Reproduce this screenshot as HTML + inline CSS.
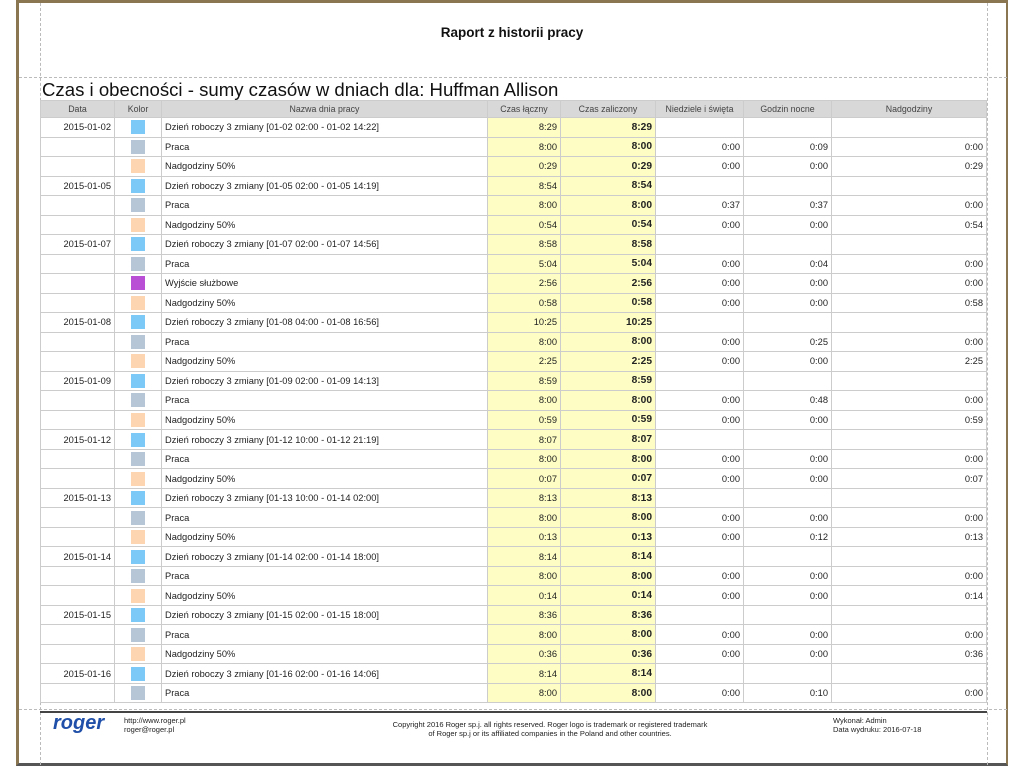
<!DOCTYPE html>
<html><head><meta charset="utf-8">
<style>
*{margin:0;padding:0;box-sizing:border-box}
body{width:1024px;height:768px;background:#fff;position:relative;overflow:hidden;font-family:"Liberation Sans","DejaVu Sans",sans-serif;color:#222}
.frame{position:absolute;left:16px;top:0;width:992px;height:766px;border:3px solid #8a7650;border-bottom-color:#555;border-right-width:2px}
.dv{position:absolute;border-left:1px dashed #bbb}
.dh{position:absolute;border-top:1px dashed #bbb}
.title{position:absolute;left:0;width:1024px;top:25px;text-align:center;font-weight:bold;font-size:13.5px;color:#111}
.head{position:absolute;left:42px;top:79px;font-size:18.6px;color:#111;white-space:nowrap}
table{position:absolute;left:40px;top:100px;border-collapse:collapse;table-layout:fixed;font-size:9.3px}
td,th{border:1px solid #ccc;height:19.53px;padding:0 3px;white-space:nowrap;overflow:hidden}
th{background:#d8d8d8;font-weight:normal;height:17px;color:#444;font-size:8.8px}
td.r{text-align:right}
td.y{background:#fdfdc4;text-align:right}
td.b{font-weight:bold;font-size:10.2px}
td.c{text-align:center}
.sq{display:inline-block;width:14px;height:14px;vertical-align:middle}
.bl{background:#7cc8f6}.gr{background:#b7c6d6}.pe{background:#fdd5b0}.pu{background:#b84fd4}
.foot{position:absolute;font-size:7.5px;color:#222;line-height:9px}
</style></head><body>
<div class="frame"></div>
<div class="dv" style="left:40px;top:3px;height:762px"></div>
<div class="dv" style="left:987px;top:3px;height:762px"></div>
<div class="dh" style="left:19px;top:77px;width:988px"></div>
<div class="dh" style="left:19px;top:709px;width:988px"></div>
<div style="position:absolute;left:40px;top:711px;width:947px;border-top:2px solid #444"></div>
<div class="title">Raport z historii pracy</div>
<div class="head">Czas i obecności - sumy czasów w dniach dla: Huffman Allison</div>
<table>
<colgroup><col style="width:74px"><col style="width:47px"><col style="width:326px"><col style="width:73px"><col style="width:95px"><col style="width:88px"><col style="width:88px"><col style="width:155px"></colgroup>
<tr><th>Data</th><th>Kolor</th><th>Nazwa dnia pracy</th><th>Czas łączny</th><th>Czas zaliczony</th><th>Niedziele i święta</th><th>Godzin nocne</th><th>Nadgodziny</th></tr>
<tr><td class="r">2015-01-02</td><td class="c"><span class="sq bl"></span></td><td>Dzień roboczy 3 zmiany [01-02 02:00 - 01-02 14:22]</td><td class="y">8:29</td><td class="y b">8:29</td><td></td><td></td><td></td></tr>
<tr><td></td><td class="c"><span class="sq gr"></span></td><td>Praca</td><td class="y">8:00</td><td class="y b">8:00</td><td class="r">0:00</td><td class="r">0:09</td><td class="r">0:00</td></tr>
<tr><td></td><td class="c"><span class="sq pe"></span></td><td>Nadgodziny 50%</td><td class="y">0:29</td><td class="y b">0:29</td><td class="r">0:00</td><td class="r">0:00</td><td class="r">0:29</td></tr>
<tr><td class="r">2015-01-05</td><td class="c"><span class="sq bl"></span></td><td>Dzień roboczy 3 zmiany [01-05 02:00 - 01-05 14:19]</td><td class="y">8:54</td><td class="y b">8:54</td><td></td><td></td><td></td></tr>
<tr><td></td><td class="c"><span class="sq gr"></span></td><td>Praca</td><td class="y">8:00</td><td class="y b">8:00</td><td class="r">0:37</td><td class="r">0:37</td><td class="r">0:00</td></tr>
<tr><td></td><td class="c"><span class="sq pe"></span></td><td>Nadgodziny 50%</td><td class="y">0:54</td><td class="y b">0:54</td><td class="r">0:00</td><td class="r">0:00</td><td class="r">0:54</td></tr>
<tr><td class="r">2015-01-07</td><td class="c"><span class="sq bl"></span></td><td>Dzień roboczy 3 zmiany [01-07 02:00 - 01-07 14:56]</td><td class="y">8:58</td><td class="y b">8:58</td><td></td><td></td><td></td></tr>
<tr><td></td><td class="c"><span class="sq gr"></span></td><td>Praca</td><td class="y">5:04</td><td class="y b">5:04</td><td class="r">0:00</td><td class="r">0:04</td><td class="r">0:00</td></tr>
<tr><td></td><td class="c"><span class="sq pu"></span></td><td>Wyjście służbowe</td><td class="y">2:56</td><td class="y b">2:56</td><td class="r">0:00</td><td class="r">0:00</td><td class="r">0:00</td></tr>
<tr><td></td><td class="c"><span class="sq pe"></span></td><td>Nadgodziny 50%</td><td class="y">0:58</td><td class="y b">0:58</td><td class="r">0:00</td><td class="r">0:00</td><td class="r">0:58</td></tr>
<tr><td class="r">2015-01-08</td><td class="c"><span class="sq bl"></span></td><td>Dzień roboczy 3 zmiany [01-08 04:00 - 01-08 16:56]</td><td class="y">10:25</td><td class="y b">10:25</td><td></td><td></td><td></td></tr>
<tr><td></td><td class="c"><span class="sq gr"></span></td><td>Praca</td><td class="y">8:00</td><td class="y b">8:00</td><td class="r">0:00</td><td class="r">0:25</td><td class="r">0:00</td></tr>
<tr><td></td><td class="c"><span class="sq pe"></span></td><td>Nadgodziny 50%</td><td class="y">2:25</td><td class="y b">2:25</td><td class="r">0:00</td><td class="r">0:00</td><td class="r">2:25</td></tr>
<tr><td class="r">2015-01-09</td><td class="c"><span class="sq bl"></span></td><td>Dzień roboczy 3 zmiany [01-09 02:00 - 01-09 14:13]</td><td class="y">8:59</td><td class="y b">8:59</td><td></td><td></td><td></td></tr>
<tr><td></td><td class="c"><span class="sq gr"></span></td><td>Praca</td><td class="y">8:00</td><td class="y b">8:00</td><td class="r">0:00</td><td class="r">0:48</td><td class="r">0:00</td></tr>
<tr><td></td><td class="c"><span class="sq pe"></span></td><td>Nadgodziny 50%</td><td class="y">0:59</td><td class="y b">0:59</td><td class="r">0:00</td><td class="r">0:00</td><td class="r">0:59</td></tr>
<tr><td class="r">2015-01-12</td><td class="c"><span class="sq bl"></span></td><td>Dzień roboczy 3 zmiany [01-12 10:00 - 01-12 21:19]</td><td class="y">8:07</td><td class="y b">8:07</td><td></td><td></td><td></td></tr>
<tr><td></td><td class="c"><span class="sq gr"></span></td><td>Praca</td><td class="y">8:00</td><td class="y b">8:00</td><td class="r">0:00</td><td class="r">0:00</td><td class="r">0:00</td></tr>
<tr><td></td><td class="c"><span class="sq pe"></span></td><td>Nadgodziny 50%</td><td class="y">0:07</td><td class="y b">0:07</td><td class="r">0:00</td><td class="r">0:00</td><td class="r">0:07</td></tr>
<tr><td class="r">2015-01-13</td><td class="c"><span class="sq bl"></span></td><td>Dzień roboczy 3 zmiany [01-13 10:00 - 01-14 02:00]</td><td class="y">8:13</td><td class="y b">8:13</td><td></td><td></td><td></td></tr>
<tr><td></td><td class="c"><span class="sq gr"></span></td><td>Praca</td><td class="y">8:00</td><td class="y b">8:00</td><td class="r">0:00</td><td class="r">0:00</td><td class="r">0:00</td></tr>
<tr><td></td><td class="c"><span class="sq pe"></span></td><td>Nadgodziny 50%</td><td class="y">0:13</td><td class="y b">0:13</td><td class="r">0:00</td><td class="r">0:12</td><td class="r">0:13</td></tr>
<tr><td class="r">2015-01-14</td><td class="c"><span class="sq bl"></span></td><td>Dzień roboczy 3 zmiany [01-14 02:00 - 01-14 18:00]</td><td class="y">8:14</td><td class="y b">8:14</td><td></td><td></td><td></td></tr>
<tr><td></td><td class="c"><span class="sq gr"></span></td><td>Praca</td><td class="y">8:00</td><td class="y b">8:00</td><td class="r">0:00</td><td class="r">0:00</td><td class="r">0:00</td></tr>
<tr><td></td><td class="c"><span class="sq pe"></span></td><td>Nadgodziny 50%</td><td class="y">0:14</td><td class="y b">0:14</td><td class="r">0:00</td><td class="r">0:00</td><td class="r">0:14</td></tr>
<tr><td class="r">2015-01-15</td><td class="c"><span class="sq bl"></span></td><td>Dzień roboczy 3 zmiany [01-15 02:00 - 01-15 18:00]</td><td class="y">8:36</td><td class="y b">8:36</td><td></td><td></td><td></td></tr>
<tr><td></td><td class="c"><span class="sq gr"></span></td><td>Praca</td><td class="y">8:00</td><td class="y b">8:00</td><td class="r">0:00</td><td class="r">0:00</td><td class="r">0:00</td></tr>
<tr><td></td><td class="c"><span class="sq pe"></span></td><td>Nadgodziny 50%</td><td class="y">0:36</td><td class="y b">0:36</td><td class="r">0:00</td><td class="r">0:00</td><td class="r">0:36</td></tr>
<tr><td class="r">2015-01-16</td><td class="c"><span class="sq bl"></span></td><td>Dzień roboczy 3 zmiany [01-16 02:00 - 01-16 14:06]</td><td class="y">8:14</td><td class="y b">8:14</td><td></td><td></td><td></td></tr>
<tr><td></td><td class="c"><span class="sq gr"></span></td><td>Praca</td><td class="y">8:00</td><td class="y b">8:00</td><td class="r">0:00</td><td class="r">0:10</td><td class="r">0:00</td></tr>
</table>
<div style="position:absolute;left:53px;top:712px;font-size:20px;font-weight:bold;font-style:italic;color:#1f4fa8">roger</div>
<div class="foot" style="left:124px;top:716px">http://www.roger.pl<br>roger@roger.pl</div>
<div class="foot" style="left:340px;width:420px;top:720px;text-align:center">Copyright 2016 Roger sp.j. all rights reserved. Roger logo is trademark or registered trademark<br>of Roger sp.j or its affiliated companies in the Poland and other countries.</div>
<div class="foot" style="left:833px;top:716px">Wykonał: Admin<br>Data wydruku: 2016-07-18</div>
</body></html>
